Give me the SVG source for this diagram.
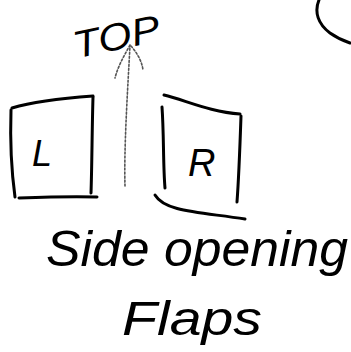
<svg xmlns="http://www.w3.org/2000/svg" width="351" height="352" viewBox="0 0 351 352">
<style>
.ink{fill:none;stroke:#000;stroke-width:3;stroke-linecap:round;stroke-linejoin:round}
.dot{fill:none;stroke:#555;stroke-width:1.6;stroke-dasharray:2 2;stroke-linecap:round}
.hand{font-family:"Liberation Sans",Arial,sans-serif;font-style:italic;fill:#000}
</style>
<rect width="351" height="352" fill="#fff"/>
<g id="corner-arc"><path class="ink" d="M319,0 C314,12 318,24 330,33 C337,38 344,41 350,43"/></g>
<g id="top-label"><text class="hand" x="72" y="50" font-size="38" transform="rotate(-12 115 35)" textLength="88" lengthAdjust="spacingAndGlyphs">TOP</text></g>
<g id="connectors">
<path class="dot" d="M125,186 C124,150 127,100 130,46"/>
<path class="dot" d="M130,45 C124,56 118,66 115,78"/>
<path class="dot" d="M131,46 C138,54 142,62 143,70"/>
</g>
<g id="box-L">
<path class="ink" d="M12,108 C35,101 65,98 93,96"/>
<path class="ink" d="M11,110 C10,140 12,175 15,197"/>
<path class="ink" d="M93,97 C92,130 92,165 91,193"/>
<path class="ink" d="M19,198 C45,197 72,196 97,197"/>
<text class="hand" x="32" y="166" font-size="36">L</text>
</g>
<g id="box-R">
<path class="ink" d="M164,95 C185,100 210,112 240,114"/>
<path class="ink" d="M162,107 C164,135 163,165 165,188"/>
<path class="ink" d="M241,116 C240,145 239,175 237,202"/>
<path class="ink" d="M155,195 C165,212 200,212 245,219"/>
<text class="hand" x="188" y="176" font-size="38">R</text>
</g>
<g id="caption">
<text class="hand" x="46" y="266" font-size="50" textLength="302" lengthAdjust="spacingAndGlyphs">Side opening</text>
<text class="hand" x="122" y="335" font-size="48" textLength="140" lengthAdjust="spacingAndGlyphs">Flaps</text>
</g>
</svg>
